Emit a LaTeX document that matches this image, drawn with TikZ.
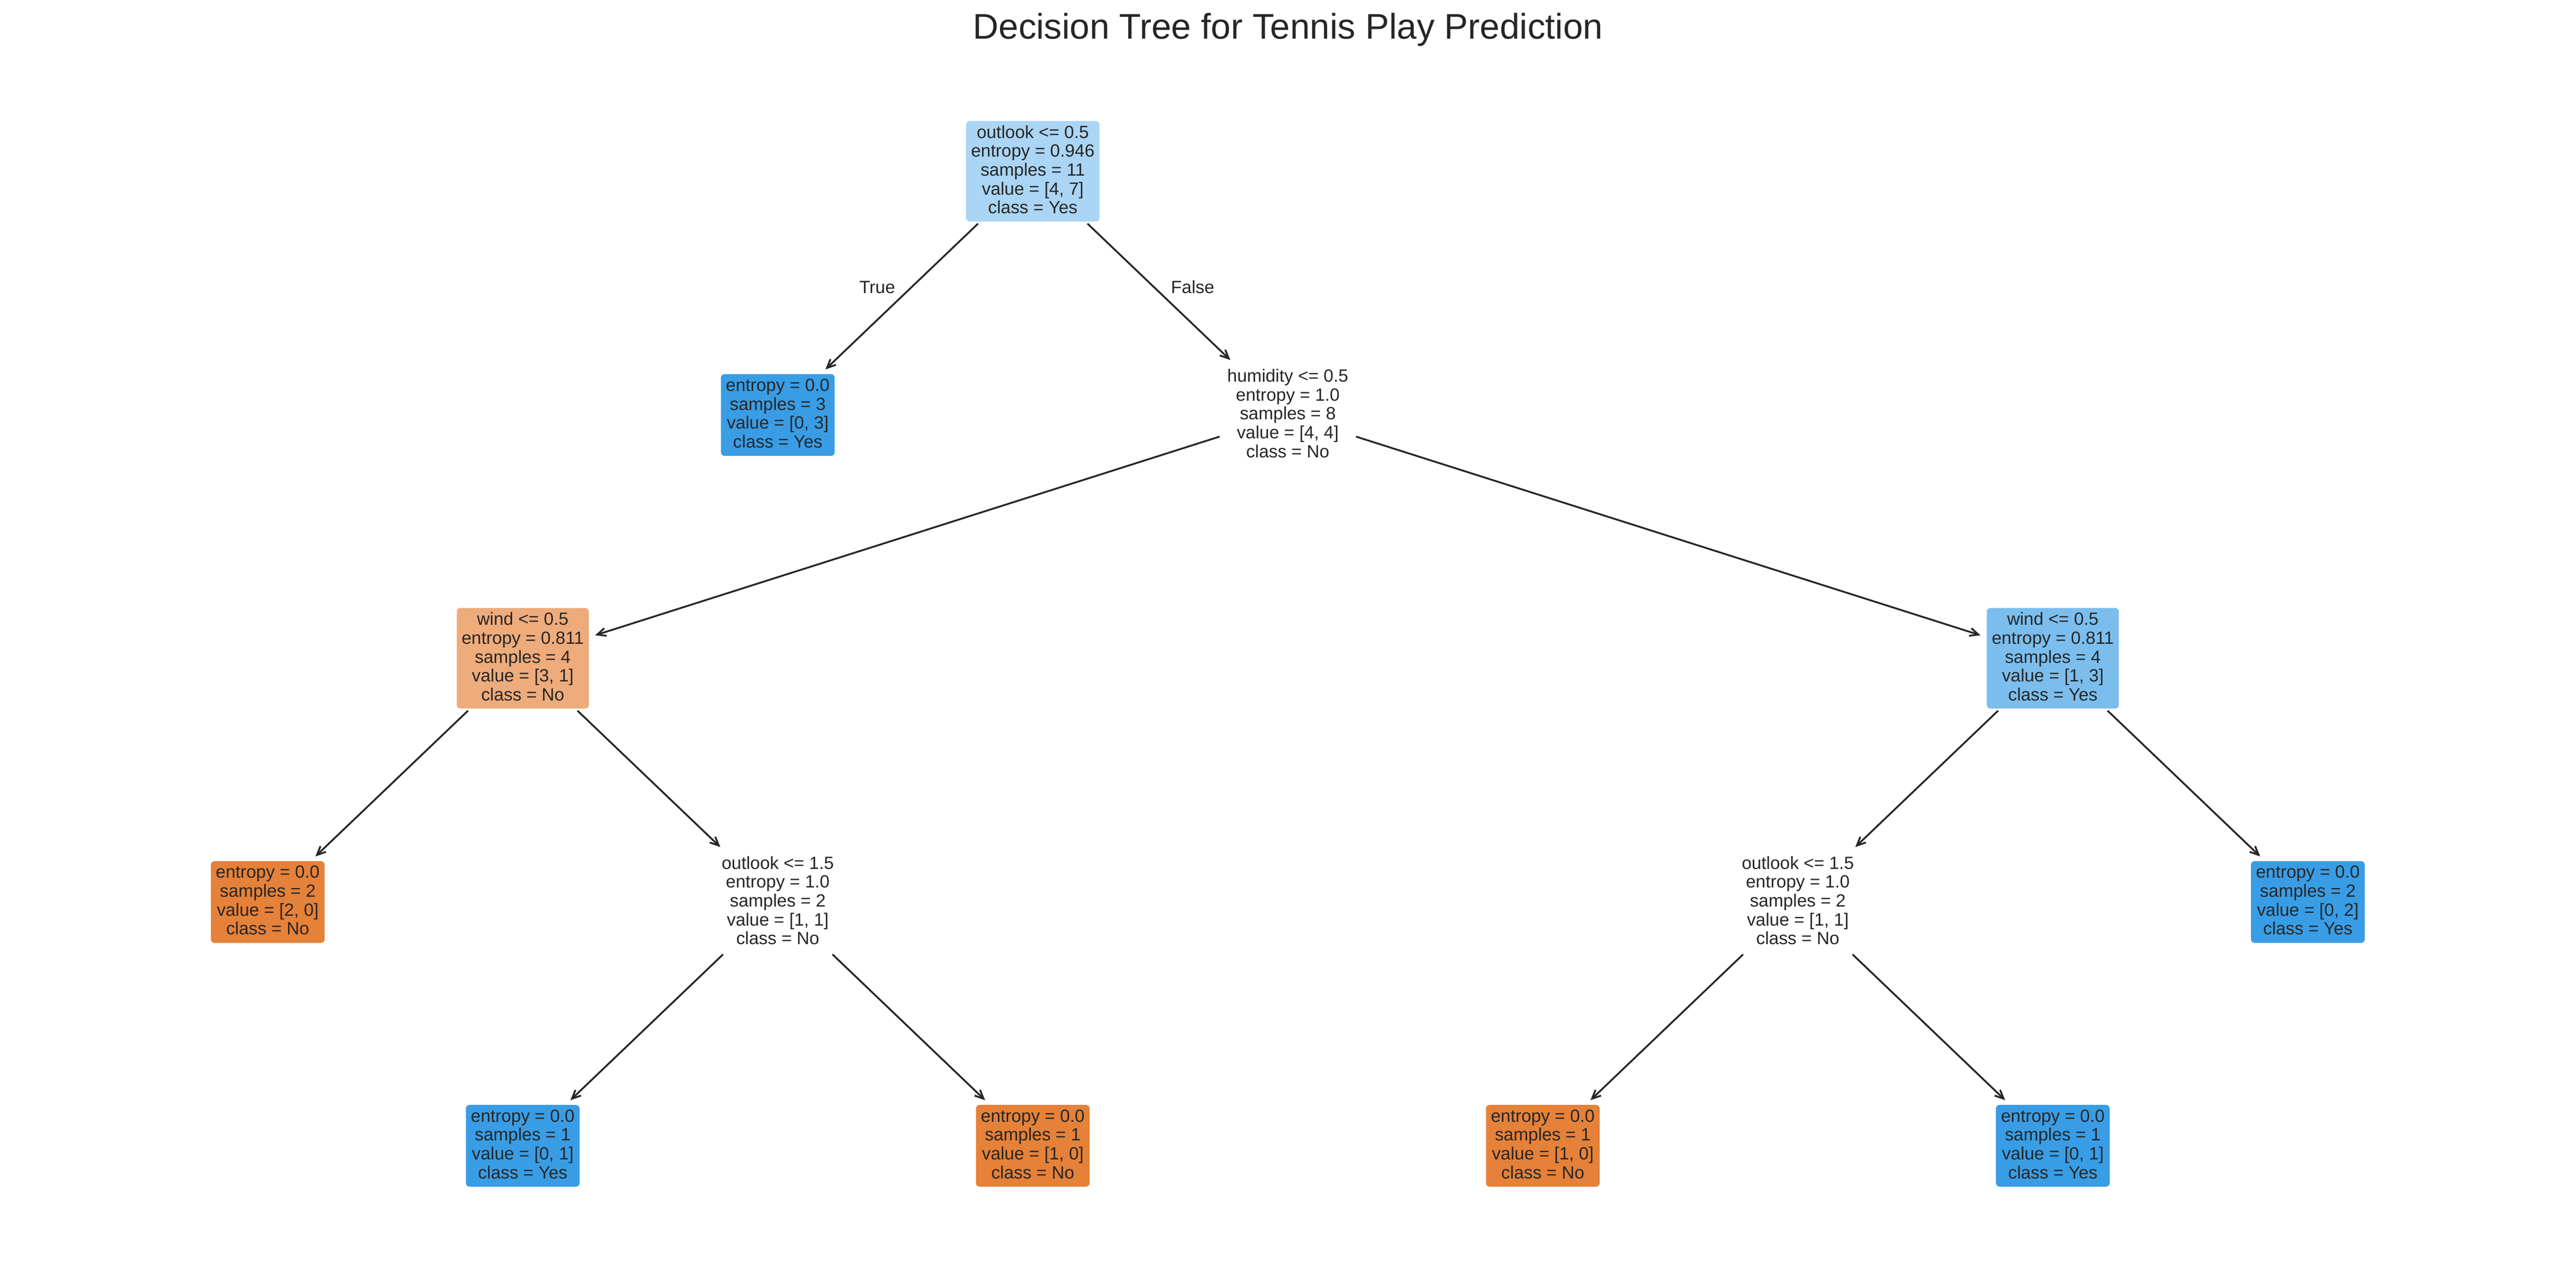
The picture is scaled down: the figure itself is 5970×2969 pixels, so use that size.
\documentclass[tikz,border=0pt]{standalone}
\usepackage{fontspec}
\setmainfont{Liberation Sans}
\usetikzlibrary{arrows.meta}
\definecolor{txt}{HTML}{262626}
\definecolor{cyes}{HTML}{399DE5}
\definecolor{cno}{HTML}{E58139}
\definecolor{croot}{HTML}{AAD5F4}
\definecolor{cwl}{HTML}{EEAB7B}
\definecolor{cwr}{HTML}{7BBEEE}
\newcommand{\lastpad}{\rule[-1.9pt]{0pt}{1.9pt}}
\begin{document}
\begin{tikzpicture}[x=0.24pt,y=-0.24pt,
  box/.style={rectangle, rounded corners=2pt, inner xsep=2.76pt, inner ysep=0pt,
    align=center, text=txt, font=\fontsize{9.84pt}{10.5pt}\selectfont},
  splitbox/.style={box, minimum height=55.92pt},
  leafbox/.style={box, minimum height=45.48pt},
  lbl/.style={anchor=base, text=txt, font=\fontsize{9.84pt}{10.5pt}\selectfont, inner sep=0pt},
  edge/.style={draw=txt, line width=1pt, -{Straight Barb[length=4.8pt,width=4.4pt]},
    shorten <=1.4pt, shorten >=3.5pt}]
\useasboundingbox (0,0) rectangle (5970,2969);
\fill[white] (0,0) rectangle (5970,2969);

\node[anchor=base, text=txt, font=\fontsize{19.8pt}{24pt}\selectfont, inner sep=0pt]
  (title) at (2985,90) {Decision Tree for Tennis Play Prediction};

% level 0
\node[splitbox, fill=croot] (root) at (2393.5,397)
  {outlook <= 0.5\\entropy = 0.946\\samples = 11\\value = [4, 7]\\class = Yes\lastpad};
% level 1
\node[leafbox, fill=cyes] (l1) at (1802.5,962)
  {entropy = 0.0\\samples = 3\\value = [0, 3]\\class = Yes\lastpad};
\node[splitbox, fill=white] (hum) at (2984.5,962)
  {humidity <= 0.5\\entropy = 1.0\\samples = 8\\value = [4, 4]\\class = No\lastpad};
% level 2
\node[splitbox, fill=cwl] (wl) at (1211.5,1526)
  {wind <= 0.5\\entropy = 0.811\\samples = 4\\value = [3, 1]\\class = No\lastpad};
\node[splitbox, fill=cwr] (wr) at (4757.5,1526)
  {wind <= 0.5\\entropy = 0.811\\samples = 4\\value = [1, 3]\\class = Yes\lastpad};
% level 3
\node[leafbox, fill=cno] (l20) at (620.5,2091)
  {entropy = 0.0\\samples = 2\\value = [2, 0]\\class = No\lastpad};
\node[splitbox, fill=white] (ol) at (1802.5,2091)
  {outlook <= 1.5\\entropy = 1.0\\samples = 2\\value = [1, 1]\\class = No\lastpad};
\node[splitbox, fill=white] (or) at (4166.5,2091)
  {outlook <= 1.5\\entropy = 1.0\\samples = 2\\value = [1, 1]\\class = No\lastpad};
\node[leafbox, fill=cyes] (l02) at (5348.5,2091)
  {entropy = 0.0\\samples = 2\\value = [0, 2]\\class = Yes\lastpad};
% level 4
\node[leafbox, fill=cyes] (b1) at (1211.5,2656)
  {entropy = 0.0\\samples = 1\\value = [0, 1]\\class = Yes\lastpad};
\node[leafbox, fill=cno] (b2) at (2393.5,2656)
  {entropy = 0.0\\samples = 1\\value = [1, 0]\\class = No\lastpad};
\node[leafbox, fill=cno] (b3) at (3575.5,2656)
  {entropy = 0.0\\samples = 1\\value = [1, 0]\\class = No\lastpad};
\node[leafbox, fill=cyes] (b4) at (4757.5,2656)
  {entropy = 0.0\\samples = 1\\value = [0, 1]\\class = Yes\lastpad};

% edges
\draw[edge] (root) -- (l1);
\draw[edge] (root) -- (hum);
\draw[edge] (hum) -- (wl);
\draw[edge] (hum) -- (wr);
\draw[edge] (wl) -- (l20);
\draw[edge] (wl) -- (ol);
\draw[edge] (ol) -- (b1);
\draw[edge] (ol) -- (b2);
\draw[edge] (wr) -- (or);
\draw[edge] (wr) -- (l02);
\draw[edge] (or) -- (b3);
\draw[edge] (or) -- (b4);

% edge labels
\node[lbl] (ltrue) at (2033,680) {True};
\node[lbl] (lfalse) at (2764,680) {False};
\end{tikzpicture}
\end{document}
